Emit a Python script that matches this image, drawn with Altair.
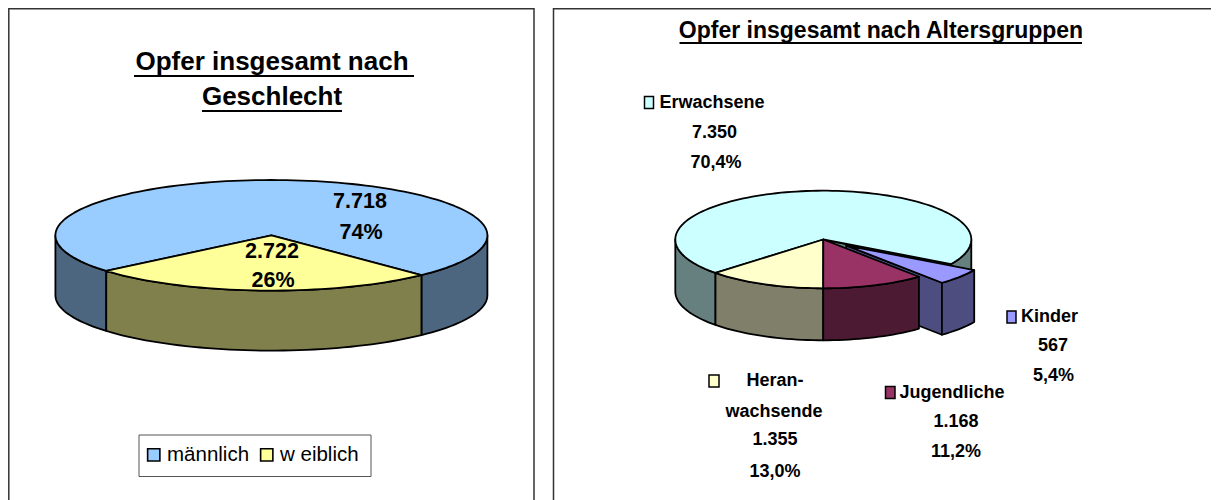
import math
import altair as alt

FONT = "Liberation Sans"
W, H = 1203, 492

# ---- data ----
sex_names = ["männlich", "w eiblich"]
sex_values = [7718, 2722]
sex_top = ["#99CCFF", "#FFFF99"]
sex_side = ["#4D6680", "#80804D"]

age_names = ["Kinder", "Jugendliche", "Heranwachsende", "Erwachsene"]
age_values = [567, 1168, 1355, 7350]
age_top = ["#9999FF", "#993366", "#FFFFCC", "#CCFFFF"]
age_side = ["#4D4D80", "#4D1A33", "#80806A", "#668080"]


class Pie:
    def __init__(self, cx, cy, rx, ry, depth, start):
        self.cx, self.cy, self.rx, self.ry, self.depth, self.start = cx, cy, rx, ry, depth, start

    def rim(self, t, dx=0, dy=0):
        a = math.radians(t)
        return [self.cx + self.rx * math.cos(a) + dx, self.cy + self.ry * math.sin(a) + dy]

    def spans(self, values):
        out, t = [], self.start
        total = sum(values)
        for v in values:
            out.append((t, t + 360 * v / total))
            t += 360 * v / total
        return out

    def top(self, t1, t2, dx=0, dy=0):
        n = max(2, int(abs(t2 - t1) / 2))
        pts = [self.rim(t1 + (t2 - t1) * i / n, dx, dy) for i in range(n + 1)]
        return [[self.cx + dx, self.cy + dy]] + pts + [[self.cx + dx, self.cy + dy]]

    def side(self, t1, t2, dx=0, dy=0):
        n = max(2, int(abs(t2 - t1) / 2))
        up = [self.rim(t1 + (t2 - t1) * i / n, dx, dy) for i in range(n + 1)]
        low = [[p[0], p[1] + self.depth] for p in reversed(up)]
        return up + low + [up[0]]

    def face(self, t, dx=0, dy=0):
        r = self.rim(t, dx, dy)
        a = [self.cx + dx, self.cy + dy]
        return [a, r, [r[0], r[1] + self.depth], [a[0], a[1] + self.depth], a]


def feat(poly, **props):
    return {"type": "Feature", "geometry": {"type": "Polygon", "coordinates": [poly]}, "properties": props}


proj = dict(type="identity", scale=1, translate=[-8, -8])
LINE = dict(stroke="black", strokeWidth=1.8, strokeJoin="round")

# ---- left pie ----
left = Pie(271.4, 235.3, 216, 55.3, 60, 46)
(f1, f2), (m1, m2) = left.spans([sex_values[1], sex_values[0]])
left_sides = [
    feat(left.side(m1, 180), fill=sex_side[0]),
    feat(left.side(360, m2), fill=sex_side[0]),
    feat(left.side(f1, f2), fill=sex_side[1]),
]
left_tops = [
    feat(left.top(m1, m2), name=sex_names[0]),
    feat(left.top(f1, f2), name=sex_names[1]),
]

# ---- right pie ----
right = Pie(823.3, 239.5, 148, 48.8, 52, 30.2)
sp = right.spans(age_values)
ex = (23, 6)
right_sides = [
    feat(right.side(sp[3][0], 180), fill=age_side[3]),
    feat(right.side(360, sp[3][1]), fill=age_side[3]),
    feat(right.face(sp[3][1]), fill=age_side[3]),
    feat(right.face(sp[0][1], *ex), fill=age_side[0]),
    feat(right.side(sp[0][0], sp[0][1], *ex), fill=age_side[0]),
    feat(right.side(*sp[2]), fill=age_side[2]),
    feat(right.side(*sp[1]), fill=age_side[1]),
]
right_tops = [
    feat(right.top(*sp[3]), fill=age_top[3]),
    feat(right.top(*sp[2]), fill=age_top[2]),
    feat(right.top(*sp[1]), fill=age_top[1]),
    feat(right.top(*sp[0], *ex), fill=age_top[0]),
]


def shapes(features):
    return alt.Chart(alt.Data(values=features)).mark_geoshape(**LINE).project(**proj).encode(
        fill=alt.Fill("properties.fill:N", scale=None)
    )


one = alt.Data(values=[{"k": 0}])


def label(t, x, y, size, weight="bold", align="center"):
    return alt.Chart(alt.Data(values=[{"t": t}])).mark_text(
        font=FONT, fontSize=size, fontWeight=weight, align=align, baseline="middle", color="black"
    ).encode(x=alt.value(x - 8), y=alt.value(y - 8), text="t:N")


def hline(x1, x2, y, w=2):
    return alt.Chart(one).mark_rule(color="black", strokeWidth=w).encode(
        x=alt.value(x1 - 8), x2=alt.value(x2 - 8), y=alt.value(y - 8)
    )


def swatch(x1, y1, x2, y2, color):
    return alt.Chart(one).mark_rect(fill=color, stroke="black", strokeWidth=1.5).encode(
        x=alt.value(x1 - 8), x2=alt.value(x2 - 8), y=alt.value(y1 - 8), y2=alt.value(y2 - 8)
    )


def frame(x1, y1, x2, y2, color="#333333", w=1.5):
    return alt.Chart(one).mark_rect(fill="white", stroke=color, strokeWidth=w).encode(
        x=alt.value(x1 - 8), x2=alt.value(x2 - 8), y=alt.value(y1 - 8), y2=alt.value(y2 - 8)
    )


left_top_layer = alt.Chart(alt.Data(values=left_tops)).mark_geoshape(**LINE).project(**proj).encode(
    fill=alt.Fill(
        "properties.name:N",
        scale=alt.Scale(domain=sex_names, range=sex_top),
        legend=alt.Legend(
            orient="none", legendX=135.5, legendY=436.5, direction="horizontal", title=None,
            symbolType="square", symbolSize=150, symbolStrokeColor="black", symbolStrokeWidth=1.6,
            symbolOpacity=1, labelFont=FONT, labelFontSize=20.5, labelColor="black",
            labelOffset=3, columnPadding=7, padding=0,
        ),
    )
)

layers = [
    frame(8.8, 8.8, 534, 530),
    frame(553.5, 8.8, 1300, 530),
    frame(139, 435, 371, 476.5, "#555555", 1),
    shapes(left_sides),
    left_top_layer,
    shapes(right_sides),
    shapes(right_tops),
    label("Opfer insgesamt nach", 272, 62, 26),
    hline(134, 414, 76),
    label("Geschlecht", 272, 97, 26),
    hline(202, 342, 111),
    label("7.718", 360, 201.5, 21.5),
    label("74%", 361, 233, 21.5),
    label("2.722", 272, 252, 21.5),
    label("26%", 273, 281, 21.5),
    label("Opfer insgesamt nach Altersgruppen", 881, 31, 23),
    hline(679.5, 1082, 43),
    swatch(644.5, 96.5, 653.5, 108.5, age_top[3]),
    label("Erwachsene", 712, 103, 18),
    label("7.350", 714.5, 133, 18),
    label("70,4%", 716, 163, 18),
    swatch(1007, 311, 1016, 323, age_top[0]),
    label("Kinder", 1049.5, 317, 18),
    label("567", 1053, 346, 18),
    label("5,4%", 1053.5, 376, 18),
    swatch(709, 375, 719, 387, age_top[2]),
    label("Heran-", 775, 380.5, 18),
    label("wachsende", 774, 412, 18),
    label("1.355", 775, 440, 18),
    label("13,0%", 775, 472, 18),
    swatch(885.5, 386.5, 895, 398.5, age_top[1]),
    label("Jugendliche", 952, 392.5, 18),
    label("1.168", 956, 422, 18),
    label("11,2%", 956, 452, 18),
]

chart = alt.layer(*layers).properties(
    width=W, height=H, padding=0, autosize=alt.AutoSizeParams(type="none"),
    background="white",
).configure_view(stroke=None)

chart.save("out.html", embed_options={"renderer": "svg", "actions": False})
